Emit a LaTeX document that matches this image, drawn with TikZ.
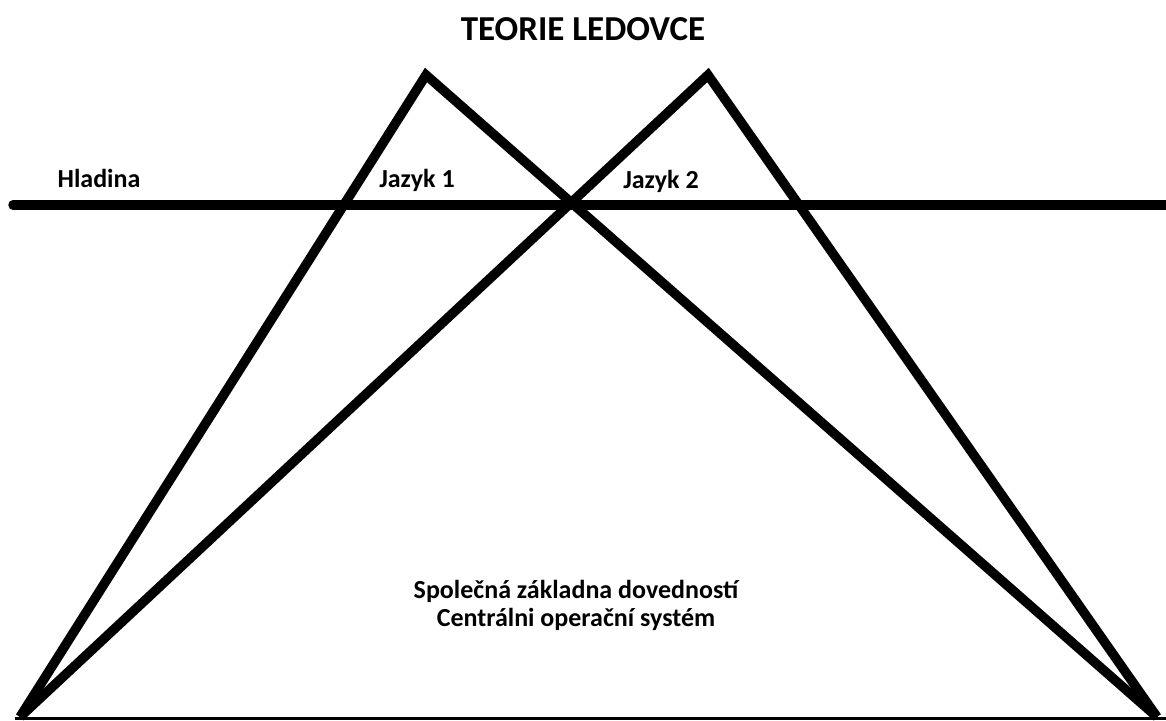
\documentclass[tikz,border=0pt]{standalone}
\usepackage{fontspec}
\setmainfont{Carlito}
\usetikzlibrary{calc}
\tikzset{l/.style={font=\fontsize{26}{28}\selectfont\bfseries}}
\tikzset{t/.style={font=\fontsize{35}{37}\selectfont\bfseries}}
\tikzset{ice/.style={line width=9.5pt}}

\begin{document}
\begin{tikzpicture}[x=1pt, y=-1pt]
        \useasboundingbox (0,0) rectangle (1166,720);
        \begin{scope}
          \coordinate (L) at (20,717);
          \coordinate (R) at (1157,717);
          \coordinate (A1) at (426,75);
          \coordinate (A2) at (708,75);
          \coordinate (W1) at (13,205);
          \coordinate (W2) at (1170,205);
          \coordinate (B1) at (15,718);
          \coordinate (B2) at (1170,718);
          \draw [ice] (L) -- (A1) -- (R);
          \draw [ice] (L) -- (A2) -- (R);
          \draw [ice, line cap=round] (W1) -- (W2);
          \draw [line width=3pt] (B1) -- (B2);
          \node [t] (title) at (583,29) {TEORIE LEDOVCE};
          \node [l] (hladina) at (99,178) {Hladina};
          \node [l] (jazyk1) at (417,180) {Jazyk 1};
          \node [l] (jazyk2) at (661,181) {Jazyk 2};
          \node [l, align=center] (base) at (576,605)
            {Společná základna dovedností\\Centrálni operační systém};
        \end{scope}
      \end{tikzpicture}
\end{document}
